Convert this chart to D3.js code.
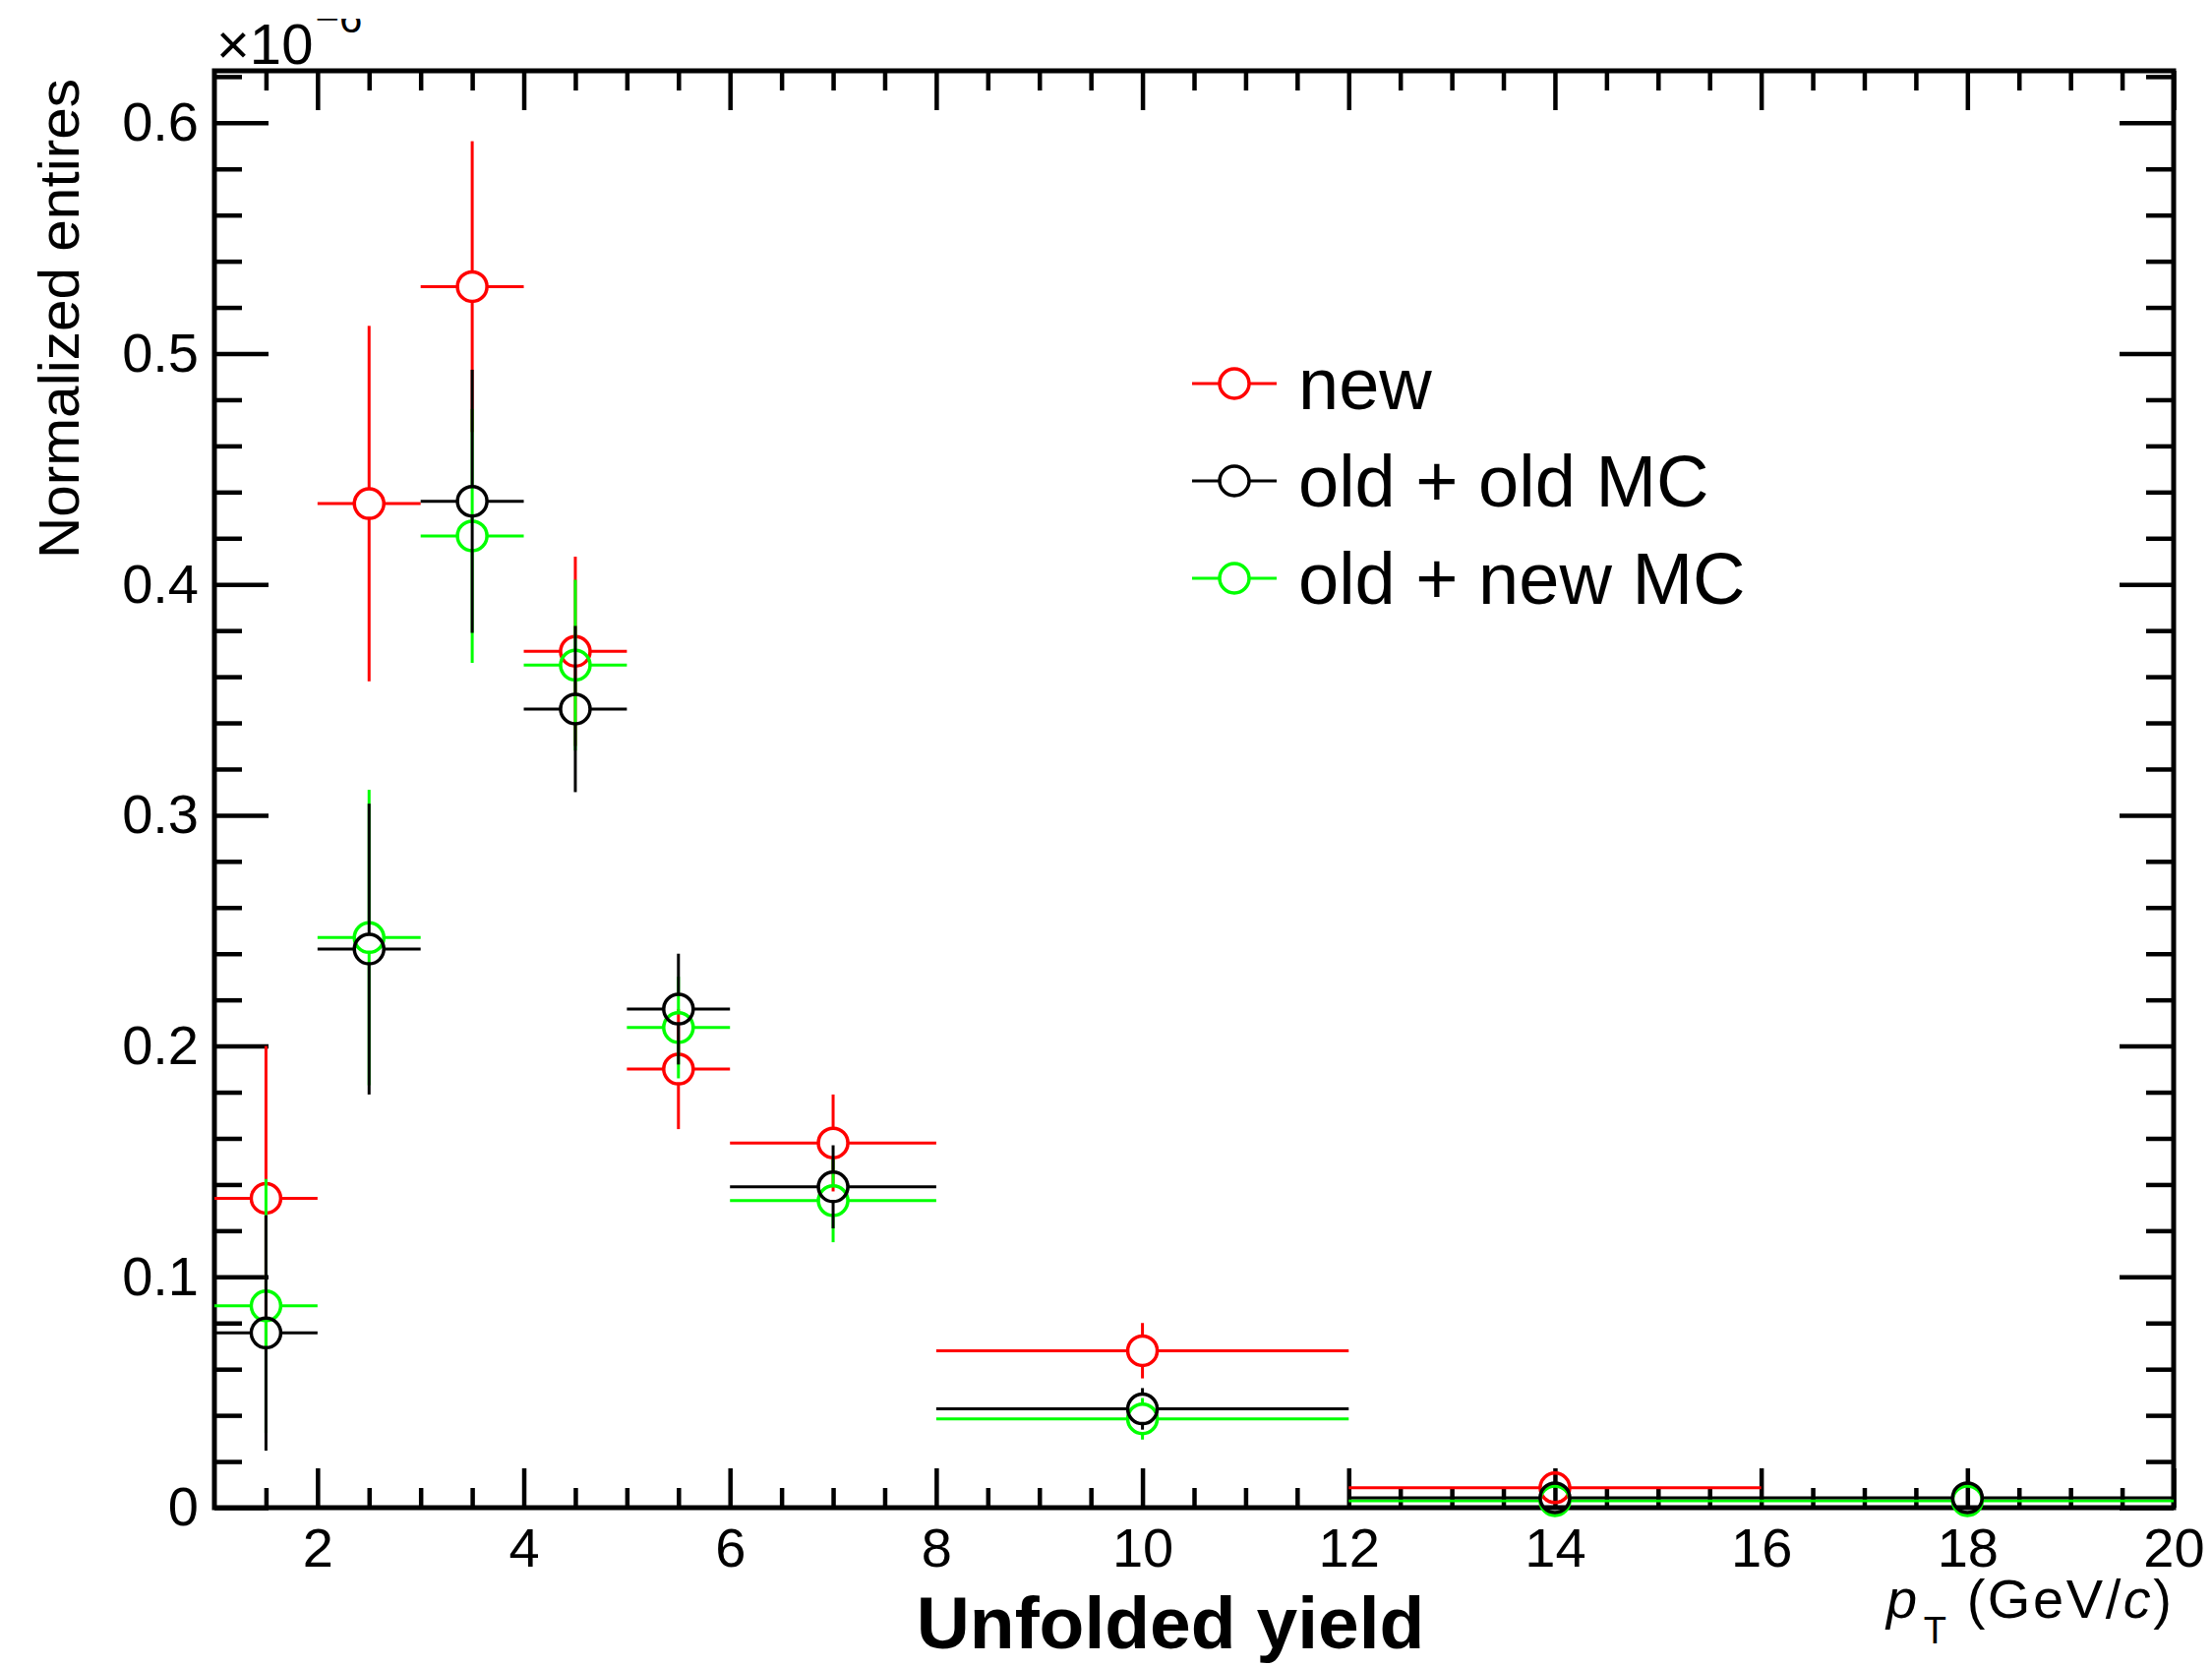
<!DOCTYPE html>
<html>
<head>
<meta charset="utf-8">
<script src="https://cdn.jsdelivr.net/npm/d3@7"></script>
<style>
  html, body { margin: 0; padding: 0; background: #fff; }
  svg { display: block; font-family: "Liberation Sans", Arial, sans-serif; }
</style>
</head>
<body>
<div id="chart"></div>
<script>
// Canvas size
const W = 2249, H = 1694;

// Bins (pT, GeV/c)
const binLo = [1, 2, 3, 4, 5, 6, 8, 12, 16];
const binHi = [2, 3, 4, 5, 6, 8, 12, 16, 20];
const binCenter = [1.5, 2.5, 3.5, 4.5, 5.5, 7, 10, 14, 18];

// Values in units of 1e-6
const newVal    = [0.134, 0.435, 0.529, 0.371, 0.190, 0.158, 0.068, 0.0086, null];
const newErr    = [0.066, 0.077, 0.063, 0.041, 0.026, 0.021, 0.012, 0.005, null];
const oldOldVal = [0.0757, 0.242, 0.436, 0.346, 0.216, 0.139, 0.0428, 0.0043, 0.0043];
const oldOldErr = [0.051, 0.063, 0.057, 0.036, 0.024, 0.018, 0.009, 0.004, 0.003];
const oldNewVal = [0.0874, 0.247, 0.421, 0.365, 0.208, 0.133, 0.0385, 0.003, 0.003];
const oldNewErr = [0.055, 0.064, 0.055, 0.037, 0.022, 0.018, 0.009, 0.003, 0.002];

const seriesNames = ["new", "old + old MC", "old + new MC"];
const seriesColors = ["#ff0000", "#000000", "#00ff00"];

// Tick values
const xMajor = [2, 4, 6, 8, 10, 12, 14, 16, 18, 20];
const yMajor = [0, 0.1, 0.2, 0.3, 0.4, 0.5, 0.6];

// Frame
const fLeft = 218, fRight = 2210, fTop = 72, fBottom = 1533;

const x = d3.scaleLinear().domain([1, 20]).range([fLeft, fRight]);
const y = d3.scaleLinear().domain([0, 0.6225]).range([fBottom, fTop]);

const svg = d3.select("#chart").append("svg")
  .attr("width", W).attr("height", H);

svg.append("rect").attr("width", W).attr("height", H).attr("fill", "#fff");

// minor ticks
const xMinor = d3.range(1.5, 20, 0.5).filter(v => Math.abs(v - Math.round(v / 2) * 2) > 1e-6);
const yMinor = d3.range(0.02, 0.6225, 0.02).filter(v => Math.abs(v * 10 - Math.round(v * 10)) > 1e-6);

function styleAxis(g) {
  g.select(".domain").remove();
  g.selectAll(".tick line").attr("stroke", "#000").attr("stroke-width", 4.5);
}

// bottom axis (labels)
svg.append("g").attr("transform", `translate(0,${fBottom})`)
  .call(d3.axisBottom(x).tickValues(xMajor).tickSizeInner(-40).tickSizeOuter(0).tickPadding(20)
    .tickFormat(d3.format("d")))
  .call(styleAxis)
  .call(g => g.selectAll("text").attr("font-size", 56).attr("fill", "#000")
    .attr("font-family", "Liberation Sans, Arial, sans-serif"));
svg.append("g").attr("transform", `translate(0,${fBottom})`)
  .call(d3.axisBottom(x).tickValues(xMinor).tickSizeInner(-20).tickSizeOuter(0).tickFormat(""))
  .call(styleAxis);

// top axis
svg.append("g").attr("transform", `translate(0,${fTop})`)
  .call(d3.axisTop(x).tickValues(xMajor).tickSizeInner(-40).tickSizeOuter(0).tickFormat(""))
  .call(styleAxis);
svg.append("g").attr("transform", `translate(0,${fTop})`)
  .call(d3.axisTop(x).tickValues(xMinor).tickSizeInner(-20).tickSizeOuter(0).tickFormat(""))
  .call(styleAxis);

// left axis (labels)
svg.append("g").attr("transform", `translate(${fLeft},0)`)
  .call(d3.axisLeft(y).tickValues(yMajor).tickSizeInner(-55).tickSizeOuter(0).tickPadding(16)
    .tickFormat(d => d === 0 ? "0" : d3.format(".1f")(d)))
  .call(styleAxis)
  .call(g => g.selectAll("text").attr("font-size", 56).attr("fill", "#000")
    .attr("font-family", "Liberation Sans, Arial, sans-serif"));
svg.append("g").attr("transform", `translate(${fLeft},0)`)
  .call(d3.axisLeft(y).tickValues(yMinor).tickSizeInner(-28).tickSizeOuter(0).tickFormat(""))
  .call(styleAxis);

// right axis
svg.append("g").attr("transform", `translate(${fRight},0)`)
  .call(d3.axisRight(y).tickValues(yMajor).tickSizeInner(-55).tickSizeOuter(0).tickFormat(""))
  .call(styleAxis);
svg.append("g").attr("transform", `translate(${fRight},0)`)
  .call(d3.axisRight(y).tickValues(yMinor).tickSizeInner(-28).tickSizeOuter(0).tickFormat(""))
  .call(styleAxis);

// frame
svg.append("rect")
  .attr("x", fLeft).attr("y", fTop)
  .attr("width", fRight - fLeft).attr("height", fBottom - fTop)
  .attr("fill", "none").attr("stroke", "#000").attr("stroke-width", 5);

// data points with error bars (gap at the marker)
const R = 15;
function drawSeries(vals, errs, color) {
  const g = svg.append("g");
  vals.forEach((v, i) => {
    if (v == null) return;
    const cx = x(binCenter[i]), cy = y(v);
    const x0 = x(binLo[i]), x1 = x(binHi[i]);
    const yT = y(v + errs[i]), yB = y(Math.max(0, v - errs[i]));
    const segs = [];
    if (cx - R > x0) segs.push([x0, cy, cx - R, cy]);
    if (x1 > cx + R) segs.push([cx + R, cy, x1, cy]);
    if (yT < cy - R) segs.push([cx, yT, cx, cy - R]);
    if (yB > cy + R) segs.push([cx, cy + R, cx, yB]);
    segs.forEach(s => g.append("line")
      .attr("x1", s[0]).attr("y1", s[1]).attr("x2", s[2]).attr("y2", s[3])
      .attr("stroke", color).attr("stroke-width", 3));
    g.append("circle").attr("cx", cx).attr("cy", cy).attr("r", R)
      .attr("fill", "none").attr("stroke", color).attr("stroke-width", 3.5);
  });
}
drawSeries(newVal, newErr, seriesColors[0]);
drawSeries(oldNewVal, oldNewErr, seriesColors[2]);
drawSeries(oldOldVal, oldOldErr, seriesColors[1]);

// legend
const legY = [390, 489, 588];
seriesNames.forEach((name, i) => {
  const g = svg.append("g");
  g.append("line").attr("x1", 1212).attr("x2", 1240).attr("y1", legY[i]).attr("y2", legY[i])
    .attr("stroke", seriesColors[i]).attr("stroke-width", 3);
  g.append("line").attr("x1", 1270).attr("x2", 1298).attr("y1", legY[i]).attr("y2", legY[i])
    .attr("stroke", seriesColors[i]).attr("stroke-width", 3);
  g.append("circle").attr("cx", 1255).attr("cy", legY[i]).attr("r", R)
    .attr("fill", "none").attr("stroke", seriesColors[i]).attr("stroke-width", 3.5);
  g.append("text").attr("x", 1320).attr("y", legY[i] + 26)
    .attr("font-size", 74).attr("fill", "#000").text(name);
});

// exponent label (its top is cut off in the original)
svg.append("clipPath").attr("id", "expClip")
  .append("rect").attr("x", 0).attr("y", 19).attr("width", W).attr("height", 100);
const ex = svg.append("text").attr("x", 220).attr("y", 65).attr("font-size", 58)
  .attr("fill", "#000").attr("clip-path", "url(#expClip)");
ex.append("tspan").text("\u00d710");
ex.append("tspan").attr("font-size", 42).attr("dx", 2).attr("dy", -32).text("\u22126");

// y title
svg.append("text")
  .attr("transform", "translate(80,80) rotate(-90)")
  .attr("text-anchor", "end")
  .attr("font-size", 58)
  .attr("textLength", 488).attr("lengthAdjust", "spacingAndGlyphs")
  .attr("fill", "#000")
  .text("Normalized entires");

// x title (pT)
const xt = svg.append("text").attr("x", 2208).attr("y", 1645)
  .attr("text-anchor", "end").attr("font-size", 56).attr("fill", "#000")
  .attr("textLength", 290).attr("lengthAdjust", "spacing");
xt.append("tspan").attr("font-style", "italic").text("p");
xt.append("tspan").attr("font-size", 38).attr("dx", 4).attr("dy", 26).text("T");
xt.append("tspan").attr("dy", -26).text(" (GeV/");
xt.append("tspan").attr("font-style", "italic").text("c");
xt.append("tspan").text(")");

// main title at bottom
svg.append("text").attr("x", 1190).attr("y", 1676)
  .attr("text-anchor", "middle").attr("font-size", 75).attr("font-weight", "bold")
  .attr("fill", "#000").text("Unfolded yield");
</script>
</body>
</html>
